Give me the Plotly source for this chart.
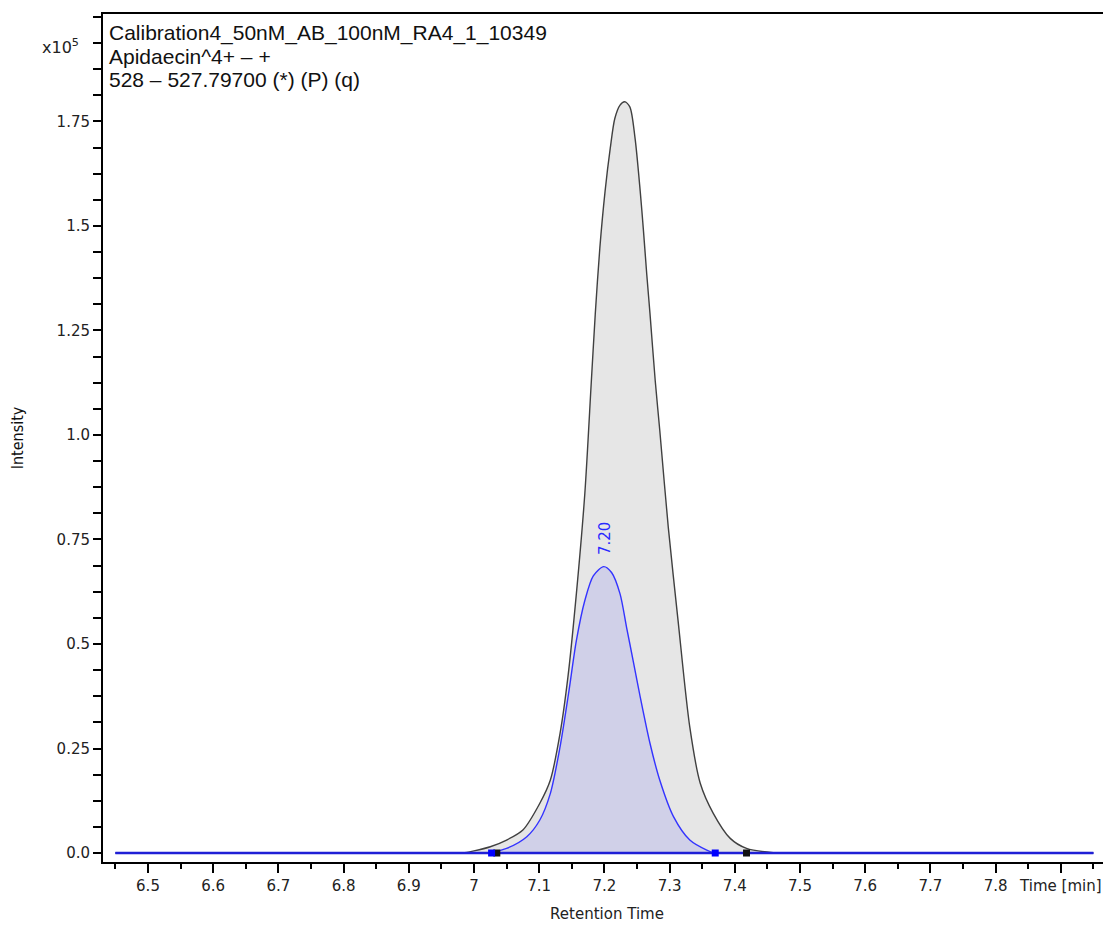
"""
chromatogram.py — Apidaecin XIC の再現
"""
import plotly.graph_objects as go

# ---------------------------------------------------------------------------
# データ (強度は x10^5 単位)
# ---------------------------------------------------------------------------
GRAY_T = [6.45, 6.80, 6.95, 6.983, 7.000, 7.025, 7.050, 7.075, 7.101, 7.117, 7.132, 7.144,
          7.157, 7.170, 7.180, 7.186, 7.193, 7.201, 7.209, 7.216, 7.224, 7.231,
          7.239, 7.247, 7.255, 7.260, 7.265, 7.270, 7.278, 7.285, 7.298, 7.313,
          7.331, 7.347, 7.367, 7.393, 7.418, 7.459, 7.50, 7.70, 7.95]
GRAY_I = [0.0, 0.0, 0.0, 0.0, 0.005, 0.015, 0.031, 0.055, 0.119, 0.174, 0.286, 0.420,
          0.620, 0.860, 1.129, 1.289, 1.447, 1.582, 1.686, 1.757, 1.789, 1.797,
          1.785, 1.710, 1.582, 1.487, 1.384, 1.289, 1.129, 1.010, 0.779, 0.556,
          0.301, 0.167, 0.095, 0.035, 0.011, 0.001, 0.0, 0.0, 0.0]

BLUE_T = [6.45, 6.80, 7.00, 7.025, 7.050, 7.081, 7.101, 7.117, 7.132, 7.145, 7.157, 7.170,
          7.183, 7.199, 7.211, 7.224, 7.234, 7.244, 7.255, 7.270, 7.285, 7.306,
          7.331, 7.357, 7.370, 7.40, 7.60, 7.95]
BLUE_I = [0.0, 0.0, 0.0, 0.001, 0.011, 0.039, 0.079, 0.142, 0.254, 0.381, 0.508, 0.604,
          0.663, 0.685, 0.671, 0.620, 0.540, 0.461, 0.373, 0.262, 0.174, 0.087,
          0.031, 0.007, 0.0, 0.0, 0.0, 0.0]

BASELINE_T = [6.45, 7.95]
BASELINE_I = [0.0, 0.0]

BLUE_BOUNDS = [7.027, 7.370]
BLACK_BOUNDS = [7.035, 7.418]

PEAK_RT = 7.20
PEAK_LABEL_Y = 0.752

TITLE_LINES = [
    "Calibration4_50nM_AB_100nM_RA4_1_10349",
    "Apidaecin^4+ – +",
    "528 – 527.79700 (*) (P) (q)",
]

X_TICKS = [6.5, 6.6, 6.7, 6.8, 6.9, 7.0, 7.1, 7.2, 7.3, 7.4, 7.5, 7.6, 7.7, 7.8, 7.9]
X_TICK_TEXT = ["6.5", "6.6", "6.7", "6.8", "6.9", "7", "7.1", "7.2", "7.3", "7.4",
               "7.5", "7.6", "7.7", "7.8", "Time [min]"]
Y_TICKS = [0.0, 0.25, 0.5, 0.75, 1.0, 1.25, 1.5, 1.75]
Y_TICK_TEXT = ["0.0", "0.25", "0.5", "0.75", "1.0", "1.25", "1.5", "1.75"]

TICK_FONT = dict(family="DejaVu Sans", size=15, color="#222222")
PLOT_H = 850  # 描画領域の高さ [px]

fig = go.Figure()

# 灰色ピーク
fig.add_trace(go.Scatter(
    x=GRAY_T, y=GRAY_I, mode="lines", fill="tozeroy",
    fillcolor="#e6e6e6",
    line=dict(color="#404040", width=1.4, shape="spline", smoothing=0.8),
    showlegend=False, hoverinfo="skip",
))

# 青ピーク
fig.add_trace(go.Scatter(
    x=BLUE_T, y=BLUE_I, mode="lines", fill="tozeroy",
    fillcolor="#d0d0e8",
    line=dict(color="#3333ff", width=1.4, shape="spline", smoothing=0.8),
    showlegend=False, hoverinfo="skip",
))

# ベースライン
fig.add_trace(go.Scatter(
    x=BASELINE_T, y=BASELINE_I, mode="lines",
    line=dict(color="#1f1fd6", width=2.5),
    showlegend=False, hoverinfo="skip",
))

# 積分境界マーカー
fig.add_trace(go.Scatter(
    x=BLACK_BOUNDS, y=[0.0] * len(BLACK_BOUNDS), mode="markers",
    marker=dict(symbol="square", size=7, color="#111111"),
    showlegend=False, hoverinfo="skip",
))
fig.add_trace(go.Scatter(
    x=BLUE_BOUNDS, y=[0.0] * len(BLUE_BOUNDS), mode="markers",
    marker=dict(symbol="square", size=7, color="#0000ff"),
    showlegend=False, hoverinfo="skip",
))

# ピークラベル
fig.add_annotation(
    x=PEAK_RT, y=PEAK_LABEL_Y, text=f"{PEAK_RT:.2f}", showarrow=False,
    textangle=-90, font=dict(family="DejaVu Sans", size=15, color="#2a2aff"),
)

# タイトル (3 行)
for i, line in enumerate(TITLE_LINES):
    fig.add_annotation(
        x=0.005, y=1 - (6 + 23.6 * i) / PLOT_H, xref="paper", yref="paper",
        text=line, showarrow=False, xanchor="left", yanchor="top",
        borderpad=0,
        font=dict(family="Liberation Sans", size=21, color="#111111"),
    )

fig.add_annotation(
    x=-0.022, y=1 - 33 / PLOT_H, xref="paper", yref="paper",
    text="x10<sup>5</sup>", showarrow=False, xanchor="right", yanchor="middle",
    font=dict(family="DejaVu Sans", size=16, color="#222222"),
)

fig.update_layout(
    width=1111, height=926, autosize=False,
    margin=dict(l=95, r=8, t=4, b=72),
    paper_bgcolor="white", plot_bgcolor="white",
    xaxis=dict(
        range=[6.431, 7.977], tickvals=X_TICKS, ticktext=X_TICK_TEXT,
        ticks="outside", ticklen=9, tickwidth=1.5, tickcolor="black",
        minor=dict(dtick=0.05, tick0=6.45, ticks="outside", ticklen=5,
                   tickwidth=1.5, tickcolor="black"),
        showline=True, linecolor="black", linewidth=2, mirror=True,
        showgrid=False, zeroline=False, tickfont=TICK_FONT,
        title=dict(text="Retention Time", standoff=14,
                   font=dict(family="DejaVu Sans", size=15, color="#222222")),
    ),
    yaxis=dict(
        range=[-0.0215, 2.007], tickvals=Y_TICKS, ticktext=Y_TICK_TEXT,
        ticks="outside", ticklen=8, tickwidth=1.5, tickcolor="black",
        minor=dict(dtick=0.0625, tick0=0, ticks="outside", ticklen=8,
                   tickwidth=1.5, tickcolor="black"),
        showline=True, linecolor="black", linewidth=2,
        showgrid=False, zeroline=False, tickfont=TICK_FONT,
        title=dict(text="Intensity", standoff=29,
                   font=dict(family="DejaVu Sans Condensed, Liberation Sans Narrow, Liberation Sans",
                             size=16, color="#111111")),
    ),
)

fig.write_html("out.html")
